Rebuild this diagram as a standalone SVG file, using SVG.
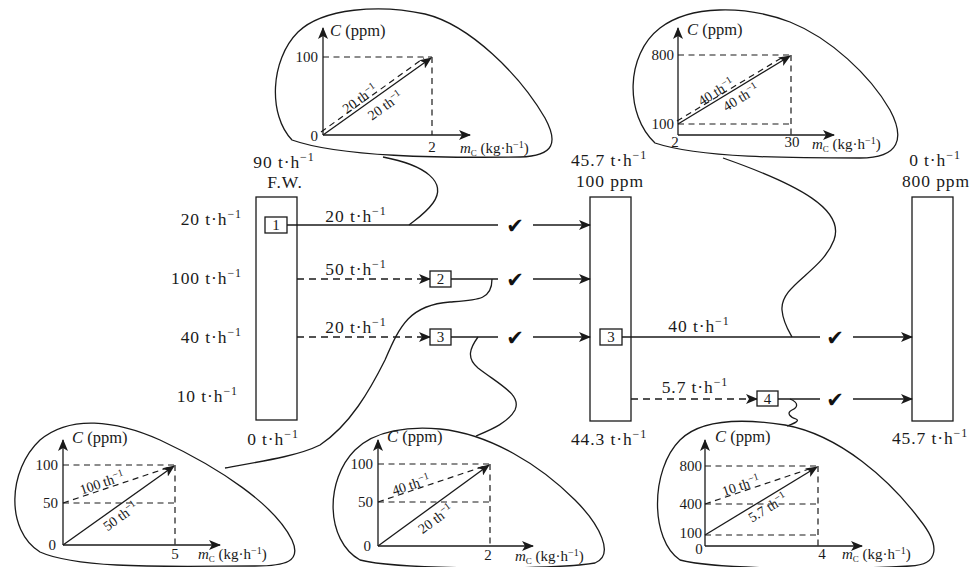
<svg xmlns="http://www.w3.org/2000/svg" width="972" height="567" viewBox="0 0 972 567">
<defs>
<marker id="ah" viewBox="0 0 12 10" refX="11" refY="5" markerWidth="12" markerHeight="10" markerUnits="userSpaceOnUse" orient="auto">
<path d="M0,0 L12,5 L0,10 L3,5 Z" fill="#1a1a1a"/>
</marker>
</defs>
<style>
.ln{stroke:#1a1a1a;stroke-width:1.3;fill:none}
.ds{stroke:#1a1a1a;stroke-width:1.3;fill:none;stroke-dasharray:7 5}
.cd{stroke:#1a1a1a;stroke-width:1.2;fill:none;stroke-dasharray:6 4.5}
.bx{stroke:#1a1a1a;stroke-width:1.3;fill:#fff}
.bl{stroke:#1a1a1a;stroke-width:1.3;fill:none}
.t{font-family:"Liberation Serif","Times New Roman",serif;font-size:17.5px;letter-spacing:0.9px;fill:#1a1a1a}
.m{text-anchor:middle}
.e{text-anchor:end}
.c{font-family:"Liberation Serif","Times New Roman",serif;font-size:15px;fill:#1a1a1a}
.cp{font-family:"Liberation Serif","Times New Roman",serif;font-size:16.5px;fill:#1a1a1a}
.r{font-family:"Liberation Serif","Times New Roman",serif;font-size:14px;fill:#1a1a1a;text-anchor:middle}
.n{font-family:"Liberation Serif","Times New Roman",serif;font-size:15px;fill:#1a1a1a;text-anchor:middle}
.ck{font-family:"DejaVu Sans",sans-serif;font-size:21px;fill:#111;text-anchor:middle}
</style>

<!-- main columns -->
<g id="fw">
<rect x="256" y="197" width="41" height="223" class="bx"/>
<text x="284" y="168" class="t m">90 t·h<tspan font-size="12" dy="-7">−1</tspan></text>
<text x="285" y="188" class="t m">F.W.</text>
<text x="273" y="445" class="t m">0 t·h<tspan font-size="12" dy="-7">−1</tspan></text>
</g>
<g id="src-labels">
<text x="242" y="225" class="t e">20 t·h<tspan font-size="12" dy="-7">−1</tspan></text>
<text x="242" y="284" class="t e">100 t·h<tspan font-size="12" dy="-7">−1</tspan></text>
<text x="242" y="343" class="t e">40 t·h<tspan font-size="12" dy="-7">−1</tspan></text>
<text x="238" y="402" class="t e">10 t·h<tspan font-size="12" dy="-7">−1</tspan></text>
</g>
<g id="tank100">
<rect x="590" y="197" width="41" height="224" class="bx"/>
<text x="609" y="166" class="t m">45.7 t·h<tspan font-size="12" dy="-7">−1</tspan></text>
<text x="610" y="187" class="t m">100 ppm</text>
<text x="609" y="445" class="t m">44.3 t·h<tspan font-size="12" dy="-7">−1</tspan></text>
</g>
<g id="tank800">
<rect x="912" y="197" width="41" height="224" class="bx"/>
<text x="935" y="166" class="t m">0 t·h<tspan font-size="12" dy="-7">−1</tspan></text>
<text x="936" y="187" class="t m">800 ppm</text>
<text x="930" y="444" class="t m">45.7 t·h<tspan font-size="12" dy="-7">−1</tspan></text>
</g>

<!-- connectors -->
<g id="connectors">
<line x1="287" y1="225" x2="498" y2="225" class="ln"/>
<line x1="533" y1="225" x2="590" y2="225" class="ln" marker-end="url(#ah)"/>
<line x1="297" y1="279" x2="430" y2="279" class="ds" marker-end="url(#ah)"/>
<line x1="451" y1="279" x2="498" y2="279" class="ln"/>
<line x1="533" y1="279" x2="590" y2="279" class="ln" marker-end="url(#ah)"/>
<line x1="297" y1="337" x2="430" y2="337" class="ds" marker-end="url(#ah)"/>
<line x1="451" y1="337" x2="498" y2="337" class="ln"/>
<line x1="533" y1="337" x2="590" y2="337" class="ln" marker-end="url(#ah)"/>
<line x1="622" y1="337" x2="820" y2="337" class="ln"/>
<line x1="853" y1="337" x2="912" y2="337" class="ln" marker-end="url(#ah)"/>
<line x1="631" y1="399" x2="757" y2="399" class="ds" marker-end="url(#ah)"/>
<line x1="778" y1="399" x2="820" y2="399" class="ln"/>
<line x1="853" y1="399" x2="912" y2="399" class="ln" marker-end="url(#ah)"/>
<text x="356" y="222" class="t m">20 t·h<tspan font-size="12" dy="-7">−1</tspan></text>
<text x="356" y="275" class="t m">50 t·h<tspan font-size="12" dy="-7">−1</tspan></text>
<text x="356" y="333" class="t m">20 t·h<tspan font-size="12" dy="-7">−1</tspan></text>
<text x="699" y="332" class="t m">40 t·h<tspan font-size="12" dy="-7">−1</tspan></text>
<text x="695" y="393" class="t m">5.7 t·h<tspan font-size="12" dy="-7">−1</tspan></text>
<text x="515" y="233" class="ck">✔</text>
<text x="515" y="287" class="ck">✔</text>
<text x="515" y="345" class="ck">✔</text>
<text x="835" y="345" class="ck">✔</text>
<text x="835" y="407" class="ck">✔</text>
<!-- callout leaders -->
<path d="M383,157 C425,165 448,182 433,203 C425,214 415,220 409,225" class="ln"/>
<path d="M723,158 C800,185 845,210 834,240 C822,272 780,285 782,310 C783,322 788,330 792,337" class="ln"/>
<path d="M225,468 C270,460 300,455 320,445 C350,425 370,390 385,360 C400,325 410,305 450,302 C478,300 492,300 492,279" class="ln"/>
<path d="M478,337 C470,348 466,358 478,368 C500,385 522,395 515,410 C508,423 490,430 476,436" class="ln"/>
<path d="M790,399 C800,403 797,408 792,410 C786,413 790,417 796,419 C801,421 792,424 787,426" class="ln"/>
</g>

<!-- process boxes -->
<g id="p1"><rect x="265" y="217" width="22" height="16" class="bx"/><text x="276" y="230" class="n">1</text></g>
<g id="p2"><rect x="430" y="271" width="21" height="16" class="bx"/><text x="440.5" y="284" class="n">2</text></g>
<g id="p3a"><rect x="430" y="329" width="21" height="16" class="bx"/><text x="440.5" y="342" class="n">3</text></g>
<g id="p3b"><rect x="600" y="329" width="22" height="16" class="bx"/><text x="611" y="342" class="n">3</text></g>
<g id="p4"><rect x="757" y="391" width="21" height="15" class="bx"/><text x="767.5" y="404" class="n">4</text></g>

<!-- balloon A: process 1 -->
<g id="chart1">
<path d="M292,140 C268,115 270,60 298,32 C323,8 380,4 425,14 C470,25 520,75 545,118 C558,142 555,156 520,157 C440,158 340,157 292,140 Z" class="bl"/>
<line x1="323" y1="135" x2="323" y2="28" class="ln" marker-end="url(#ah)"/>
<line x1="323" y1="135" x2="470" y2="135" class="ln" marker-end="url(#ah)"/>
<line x1="323" y1="57" x2="432" y2="57" class="cd"/>
<line x1="432" y1="57" x2="432" y2="135" class="cd"/>
<line x1="323" y1="135" x2="431" y2="58" class="ln" marker-end="url(#ah)"/>
<line x1="321" y1="132" x2="424" y2="58" class="cd"/>
<text x="330" y="36" class="cp"><tspan font-style="italic">C</tspan> (ppm)</text>
<text x="318" y="62" class="c e">100</text>
<text x="318" y="141" class="c e">0</text>
<text x="432" y="152" class="c m">2</text>
<text x="460" y="153" class="c"><tspan font-style="italic">m</tspan><tspan font-size="9" dy="3">C</tspan><tspan dy="-3"> (kg·h</tspan><tspan font-size="10" dy="-5">−1</tspan><tspan dy="5">)</tspan></text>
<text transform="translate(364.5,105.3) rotate(-35.6)" y="-3.3" class="r">20 th<tspan font-size="10" dy="-5">−1</tspan></text>
<text transform="translate(378,95.6) rotate(-35.6)" y="17" class="r">20 th<tspan font-size="10" dy="-5">−1</tspan></text>
</g>

<!-- balloon B: process 3 to 800 ppm -->
<g id="chart3b">
<path d="M655,143 C625,115 625,55 660,28 C690,5 745,5 790,22 C830,38 870,75 890,110 C905,138 900,158 860,158 C790,158 700,158 655,143 Z" class="bl"/>
<line x1="678" y1="135" x2="678" y2="28" class="ln" marker-end="url(#ah)"/>
<line x1="678" y1="135" x2="834" y2="135" class="ln" marker-end="url(#ah)"/>
<line x1="678" y1="55" x2="791" y2="55" class="cd"/>
<line x1="678" y1="124" x2="791" y2="124" class="cd"/>
<line x1="791" y1="55" x2="791" y2="135" class="cd"/>
<line x1="678" y1="124" x2="790" y2="56" class="ln" marker-end="url(#ah)"/>
<line x1="677" y1="121" x2="783" y2="57" class="cd"/>
<text x="687" y="35" class="cp"><tspan font-style="italic">C</tspan> (ppm)</text>
<text x="674" y="60" class="c e">800</text>
<text x="674" y="129" class="c e">100</text>
<text x="675" y="147" class="c m">2</text>
<text x="792" y="147" class="c m">30</text>
<text x="812" y="149" class="c"><tspan font-style="italic">m</tspan><tspan font-size="9" dy="3">C</tspan><tspan dy="-3"> (kg·h</tspan><tspan font-size="10" dy="-5">−1</tspan><tspan dy="5">)</tspan></text>
<text transform="translate(719.9,98.2) rotate(-31.6)" y="-2.8" class="r">40 th<tspan font-size="10" dy="-5">−1</tspan></text>
<text transform="translate(735.3,88.7) rotate(-31.6)" y="15" class="r">40 th<tspan font-size="10" dy="-5">−1</tspan></text>
</g>

<!-- balloon C: process 2 -->
<g id="chart2">
<path d="M40,552 C5,530 8,470 40,440 C70,415 115,420 160,440 C220,468 275,505 292,540 C302,562 285,566 255,566 C180,566 80,570 40,552 Z" class="bl"/>
<line x1="63" y1="545" x2="63" y2="440" class="ln" marker-end="url(#ah)"/>
<line x1="63" y1="545" x2="220" y2="545" class="ln" marker-end="url(#ah)"/>
<line x1="63" y1="465" x2="175" y2="465" class="cd"/>
<line x1="63" y1="503" x2="175" y2="503" class="cd"/>
<line x1="175" y1="465" x2="175" y2="545" class="cd"/>
<line x1="63" y1="545" x2="174" y2="466" class="ln" marker-end="url(#ah)"/>
<line x1="63" y1="503" x2="170" y2="467" class="cd"/>
<text x="72" y="443" class="cp"><tspan font-style="italic">C</tspan> (ppm)</text>
<text x="58" y="470" class="c e">100</text>
<text x="58" y="508" class="c e">50</text>
<text x="56" y="550" class="c e">0</text>
<text x="175" y="559" class="c m">5</text>
<text x="198" y="559" class="c"><tspan font-style="italic">m</tspan><tspan font-size="9" dy="3">C</tspan><tspan dy="-3"> (kg·h</tspan><tspan font-size="10" dy="-5">−1</tspan><tspan dy="5">)</tspan></text>
<text transform="translate(104.1,489.2) rotate(-18.6)" y="-2" class="r">100 th<tspan font-size="10" dy="-5">−1</tspan></text>
<text transform="translate(114.5,508) rotate(-35.7)" y="15" class="r">50 th<tspan font-size="10" dy="-5">−1</tspan></text>
</g>

<!-- balloon D: process 3 -->
<g id="chart3a">
<path d="M360,560 C325,540 325,480 355,450 C375,430 410,426 440,429 C490,434 540,465 575,500 C600,525 615,555 595,563 C550,570 400,570 360,560 Z" class="bl"/>
<line x1="378" y1="546" x2="378" y2="440" class="ln" marker-end="url(#ah)"/>
<line x1="378" y1="546" x2="533" y2="546" class="ln" marker-end="url(#ah)"/>
<line x1="378" y1="464" x2="490" y2="464" class="cd"/>
<line x1="378" y1="502" x2="490" y2="502" class="cd"/>
<line x1="490" y1="464" x2="490" y2="546" class="cd"/>
<line x1="378" y1="546" x2="489" y2="465" class="ln" marker-end="url(#ah)"/>
<line x1="378" y1="502" x2="485" y2="466" class="cd"/>
<text x="387" y="442" class="cp"><tspan font-style="italic">C</tspan> (ppm)</text>
<text x="373" y="469" class="c e">100</text>
<text x="373" y="507" class="c e">50</text>
<text x="371" y="551" class="c e">0</text>
<text x="488" y="560" class="c m">2</text>
<text x="515" y="561" class="c"><tspan font-style="italic">m</tspan><tspan font-size="9" dy="3">C</tspan><tspan dy="-3"> (kg·h</tspan><tspan font-size="10" dy="-5">−1</tspan><tspan dy="5">)</tspan></text>
<text transform="translate(412.8,490.3) rotate(-18.6)" y="-1" class="r">40 th<tspan font-size="10" dy="-5">−1</tspan></text>
<text transform="translate(428.2,509.1) rotate(-36.4)" y="17" class="r">20 th<tspan font-size="10" dy="-5">−1</tspan></text>
</g>

<!-- balloon E: process 4 -->
<g id="chart4">
<path d="M680,560 C650,540 650,470 680,440 C700,420 740,418 785,425 C840,435 890,480 920,520 C940,545 940,565 910,566 C840,570 720,570 680,560 Z" class="bl"/>
<line x1="705" y1="546" x2="705" y2="440" class="ln" marker-end="url(#ah)"/>
<line x1="705" y1="546" x2="862" y2="546" class="ln" marker-end="url(#ah)"/>
<line x1="705" y1="466" x2="818" y2="466" class="cd"/>
<line x1="705" y1="504" x2="818" y2="504" class="cd"/>
<line x1="705" y1="535" x2="818" y2="535" class="cd"/>
<line x1="818" y1="466" x2="818" y2="546" class="cd"/>
<line x1="705" y1="535" x2="817" y2="467" class="ln" marker-end="url(#ah)"/>
<line x1="705" y1="504" x2="812" y2="468" class="cd"/>
<text x="715" y="442" class="cp"><tspan font-style="italic">C</tspan> (ppm)</text>
<text x="702" y="471" class="c e">800</text>
<text x="702" y="509" class="c e">400</text>
<text x="702" y="538" class="c e">100</text>
<text x="699" y="554" class="c m" font-size="14">0</text>
<text x="822" y="559" class="c m">4</text>
<text x="842" y="559" class="c"><tspan font-style="italic">m</tspan><tspan font-size="9" dy="3">C</tspan><tspan dy="-3"> (kg·h</tspan><tspan font-size="10" dy="-5">−1</tspan><tspan dy="5">)</tspan></text>
<text transform="translate(742.9,491.4) rotate(-18.5)" y="-1.5" class="r">10 th<tspan font-size="10" dy="-5">−1</tspan></text>
<text transform="translate(762.8,499.6) rotate(-31.5)" y="14" class="r">5.7 th<tspan font-size="10" dy="-5">−1</tspan></text>
</g>
</svg>
